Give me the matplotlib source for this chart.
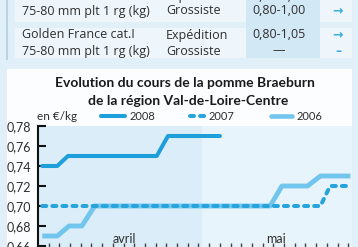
import numpy as np
import matplotlib
matplotlib.use('Agg')
import matplotlib.pyplot as plt
from matplotlib.patches import Rectangle

# ----------------------------------------------------------------------------
# Donnees
# ----------------------------------------------------------------------------

# Axe x en unites de graduation (1 graduation = 2 jours environ)
x_2008 = [0.4, 1.8, 2.8, 11.1, 12.15, 17.0]
y_2008 = [0.74, 0.74, 0.75, 0.75, 0.77, 0.77]

x_2007 = [0.4, 26.4, 27.3, 29.0]
y_2007 = [0.70, 0.70, 0.72, 0.72]

x_2006 = [0.4, 1.8, 2.9, 4.1, 5.3, 21.7, 22.8, 25.2, 26.4, 29.2]
y_2006 = [0.67, 0.67, 0.68, 0.68, 0.70, 0.70, 0.72, 0.72, 0.73, 0.73]

y_ticks = [0.66, 0.68, 0.70, 0.72, 0.74, 0.76, 0.78]
x_ticks = list(range(1, 30))
months = ['avril', 'mai']
month_pos = [8.1, 22.2]
april_end = 15.3

# Tableau du haut
table_rows = [
    ('Braeburn France cat.I', 'Expédition', '0,70-0,90', '→', -4),
    ('75-80 mm plt 1 rg (kg)', 'Grossiste', '0,80-1,00', '→', 11),
    ('Golden France cat.I', 'Expédition', '0,80-1,05', '→', 35),
    ('75-80 mm plt 1 rg (kg)', 'Grossiste', '—', '–', 51),
]

# ----------------------------------------------------------------------------
# Figure
# ----------------------------------------------------------------------------
W, H = 358, 247
FONT = 'Lato'
TFONT = 'Open Sans'
TXT = '#2e2e2e'
C2008 = '#1c9fdb'
C2007 = '#26a4db'
C2006 = '#72c6ee'


def fx(x):
    return x / W


def fy(y):
    return 1 - y / H


def rect(x0, y0, x1, y1, color, z=0):
    r = Rectangle((fx(x0), fy(y1)), (x1 - x0) / W, (y1 - y0) / H,
                  transform=fig.transFigure, facecolor=color,
                  edgecolor='none', zorder=z)
    fig.add_artist(r)


fig = plt.figure(figsize=(W / 100, H / 100), dpi=100)
fig.patch.set_facecolor('#e1eff8')

# fonds du tableau
rect(15, -5, 352, 22, '#eef6fb')
rect(15, 28, 352, 58, '#eef6fb')
rect(246, -5, 320, 58, '#d3e8f5')
rect(6, -5, 7.5, 60, '#b9d3e3')

for name, stage, price, arrow, y in table_rows:
    fig.text(fx(22), fy(y), name, fontsize=9, family=TFONT, color=TXT, va='center')
    fig.text(fx(166), fy(y), stage, fontsize=9, family=TFONT, color=TXT, va='center')
    fig.text(fx(279), fy(y), price, fontsize=9, family=TFONT, color=TXT,
             va='center', ha='center')
    fig.text(fx(338), fy(y), arrow, fontsize=9, family='DejaVu Sans',
             color='#3aaee0', va='center', ha='center', fontweight='bold')

# panneau blanc du graphique
rect(7, 69, 352, 250, '#fbfdfe', z=0)

# titre
fig.text(fx(185), fy(83), 'Evolution du cours de la pomme Braeburn', fontsize=10,
         family=FONT, fontweight='bold', color='#1a1a1a', ha='center', va='center')
fig.text(fx(188), fy(101), 'de la région Val-de-Loire-Centre', fontsize=10,
         family=FONT, fontweight='bold', color='#1a1a1a', ha='center', va='center')

# legende
fig.text(fx(37), fy(117), 'en €/kg', fontsize=8.5, family=FONT, color=TXT, va='center')
leg = fig.add_axes([0, 0, 1, 1], facecolor='none')
leg.set_xlim(0, W)
leg.set_ylim(H, 0)
leg.axis('off')
leg.plot([101, 125], [116, 116], color=C2008, lw=2.9, solid_capstyle='round')
leg.plot([190, 206], [116, 116], color=C2007, lw=2.9, dashes=(1.0, 1.5),
         dash_capstyle='round')
leg.plot([271, 292], [116, 116], color=C2006, lw=3.3, solid_capstyle='round')
for x, lab in [(130, '2008'), (209, '2007'), (297, '2006')]:
    fig.text(fx(x), fy(116), lab, fontsize=8, family=FONT, color=TXT, va='center')

# ----------------------------------------------------------------------------
# Axes
# ----------------------------------------------------------------------------
ax = fig.add_axes([fx(38), fy(249), 314 / W, 123 / H])
ax.set_facecolor('#e8f4fb')
ax.axvspan(0, april_end, color='#daedf8', lw=0, zorder=0)

ax.plot(x_2006, y_2006, color=C2006, lw=3.5, solid_capstyle='butt',
        solid_joinstyle='round', zorder=2)
ax.plot(x_2007, y_2007, color=C2007, lw=2.9, dashes=(1.0, 1.5),
        dash_capstyle='round', zorder=3)
ax.plot(x_2008, y_2008, color=C2008, lw=2.9, solid_capstyle='round',
        solid_joinstyle='round', zorder=4)

ax.set_xlim(0, 29.35)
ax.set_ylim(0.657, 0.78)

for s in ['top', 'right', 'bottom']:
    ax.spines[s].set_visible(False)
ax.spines['left'].set_linewidth(1.5)
ax.spines['left'].set_color('#111111')
ax.spines['left'].set_bounds(0.657, 0.78)

ax.set_yticks(y_ticks)
ax.set_yticklabels(['{:.2f}'.format(v).replace('.', ',') for v in y_ticks],
                   fontsize=9, family=FONT, color=TXT)
ax.tick_params(axis='y', direction='in', length=6, width=1.5, color='#111111', pad=5)

ax.set_xticks(x_ticks)
ax.set_xticklabels([])
ax.tick_params(axis='x', direction='in', length=4, width=1.0, color='#444444')

for m, p in zip(months, month_pos):
    ax.text(p, 0.667, m, fontsize=9, family=FONT, color=TXT, ha='center',
            va='center')

fig.savefig('out.png', dpi=100)
